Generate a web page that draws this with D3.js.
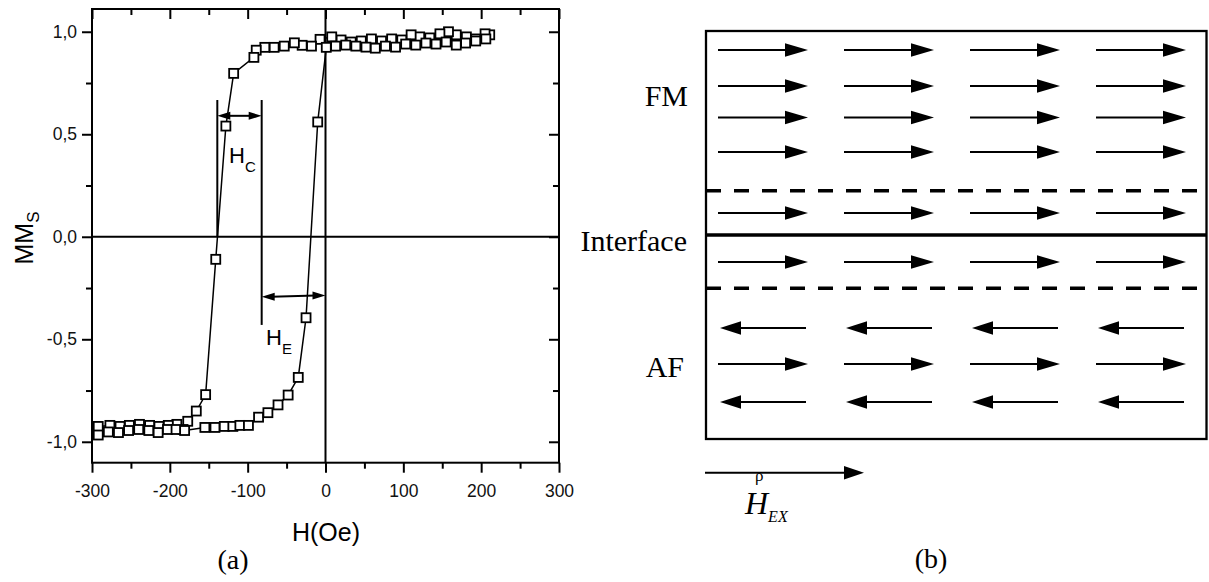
<!DOCTYPE html>
<html>
<head>
<meta charset="UTF-8">
<title></title>
<style>
  body { margin: 0; background: #fff; }
  svg { display: block; }
</style>
</head>
<body>
<svg width="1209" height="582"></svg>
<script src="https://cdn.jsdelivr.net/npm/d3@7/dist/d3.min.js"></script>
<script>
// hysteresis loop, descending branch (from +H down)
var downH = [211, 205, 193, 181, 168, 158, 147, 134, 121, 110, 98, 85, 72, 59, 46, 33, 20, 8,
             -7, -18, -30, -40, -53, -66, -78, -89, -92, -118, -128, -141, -154, -166, -177, -183,
             -191, -202, -214, -226, -239, -252, -264, -277, -292];
var downM = [0.985, 0.99, 0.965, 0.975, 0.985, 1.0, 0.99, 0.97, 0.975, 0.985, 0.96, 0.965, 0.955, 0.965, 0.955, 0.95, 0.96, 0.975,
             0.963, 0.93, 0.934, 0.946, 0.93, 0.924, 0.924, 0.91, 0.875, 0.797, 0.54, -0.11, -0.77, -0.85, -0.9, -0.94,
             -0.915, -0.92, -0.925, -0.92, -0.915, -0.92, -0.925, -0.92, -0.925];
// ascending branch (from -H up)
var upH = [-292, -279, -266, -253, -240, -227, -215, -203, -192, -181, -155, -142, -130, -119, -110, -99,
           -86, -74, -61, -48, -35, -25, -10, 1, 13, 26, 39, 52, 64, 77, 90, 103, 116, 129, 142, 155, 168, 180, 193, 206];
var upM = [-0.967, -0.952, -0.955, -0.945, -0.94, -0.945, -0.955, -0.94, -0.94, -0.945, -0.93, -0.93, -0.925, -0.925, -0.92, -0.92,
           -0.88, -0.858, -0.82, -0.772, -0.686, -0.395, 0.56, 0.924, 0.93, 0.935, 0.93, 0.925, 0.92, 0.93, 0.925, 0.94, 0.935, 0.945, 0.94, 0.95, 0.935, 0.945, 0.955, 0.965];

var xTicks = [-300, -200, -100, 0, 100, 200, 300];
var xMinor = [-250, -150, -50, 50, 150, 250];
var yTicks = [-1, -0.5, 0, 0.5, 1];
var yMinor = [-0.75, -0.25, 0.25, 0.75];

var hcField = [-139, -82];   // coercive field markers
var heField = [-82, 0];      // exchange bias markers

// spin directions in the layers (1 = right, -1 = left)
var fmSpins = [1, 1, 1, 1];
var interfaceSpins = [1, 1];
var afSpins = [-1, 1, -1];
var columns = [0, 1, 2, 3];

var sans = '"Liberation Sans", Arial, sans-serif';
var serif = '"Liberation Serif", "Times New Roman", serif';

var svg = d3.select('svg');
var x = d3.scaleLinear().domain([-300, 300]).range([92, 559]);
var y = d3.scaleLinear().domain([-1.102, 1.111]).range([462.7, 9]);

function head(g, tx, ty, dir, len, half) {
  g.append('path')
    .attr('d', 'M' + tx + ',' + ty + 'L' + (tx - dir * len) + ',' + (ty - half) + 'L' + (tx - dir * len) + ',' + (ty + half) + 'Z')
    .attr('fill', '#000');
}

// ---- panel (a) ----
var plot = svg.append('g');

function axis(gen, tf, vals, size, fmt, pad) {
  var g = plot.append('g').attr('transform', tf)
    .call(gen.tickValues(vals).tickSize(size).tickPadding(pad || 3).tickFormat(fmt || ''));
  g.select('.domain').remove();
  g.selectAll('line').attr('stroke-width', 2);
  g.selectAll('text').attr('font-family', sans).attr('font-size', 17.5).attr('fill', '#111');
  return g;
}
axis(d3.axisBottom(x), 'translate(0,462.7)', xTicks, 10, function (d) { return String(d); }, 12);
axis(d3.axisBottom(x), 'translate(0,462.7)', xMinor, 6);
axis(d3.axisTop(x), 'translate(0,9)', xTicks, -10);
axis(d3.axisTop(x), 'translate(0,9)', xMinor, -6);
axis(d3.axisLeft(y), 'translate(92,0)', yTicks, 10, function (d) { return d.toFixed(1).replace('.', ','); }, 5);
axis(d3.axisLeft(y), 'translate(92,0)', yMinor, 6);
axis(d3.axisRight(y), 'translate(559,0)', yTicks, -10);
axis(d3.axisRight(y), 'translate(559,0)', yMinor, -6);

plot.append('rect')
  .attr('x', x(-300)).attr('y', y(1.111))
  .attr('width', x(300) - x(-300)).attr('height', y(-1.102) - y(1.111))
  .attr('fill', 'none').attr('stroke', '#000').attr('stroke-width', 2);

plot.append('line').attr('x1', x(-300)).attr('x2', x(300)).attr('y1', y(0)).attr('y2', y(0))
  .attr('stroke', '#000').attr('stroke-width', 2);
plot.append('line').attr('x1', x(0)).attr('x2', x(0)).attr('y1', y(1.111)).attr('y2', y(-1.102))
  .attr('stroke', '#000').attr('stroke-width', 2);

// annotation lines
var ann = plot.append('g').attr('stroke', '#000').attr('stroke-width', 2);
ann.append('line').attr('x1', x(hcField[0])).attr('x2', x(hcField[0])).attr('y1', y(0.667)).attr('y2', y(0));
ann.append('line').attr('x1', x(hcField[1])).attr('x2', x(hcField[1])).attr('y1', y(0.667)).attr('y2', y(-0.43));
ann.append('line').attr('x1', x(hcField[0]) + 10).attr('x2', x(hcField[1]) - 10).attr('y1', y(0.59)).attr('y2', y(0.59));
ann.append('line').attr('x1', x(heField[0]) + 10).attr('x2', x(heField[1]) - 10).attr('y1', y(-0.293)).attr('y2', y(-0.287));
head(plot, x(hcField[0]), y(0.59), -1, 13, 4);
head(plot, x(hcField[1]), y(0.59), 1, 13, 4);
head(plot, x(heField[0]), y(-0.293), -1, 13, 4);
head(plot, x(heField[1]), y(-0.287), 1, 13, 4);

// loop line + squares
var down = downH.map(function (h, i) { return [h, downM[i]]; });
var up = upH.map(function (h, i) { return [h, upM[i]]; });
var line = d3.line().x(function (d) { return x(d[0]); }).y(function (d) { return y(d[1]); });
[down, up].forEach(function (s) {
  plot.append('path').datum(s).attr('d', line).attr('fill', 'none').attr('stroke', '#000').attr('stroke-width', 1.5);
});
plot.selectAll('rect.pt').data(down.concat(up)).enter().append('rect')
  .attr('class', 'pt')
  .attr('x', function (d) { return x(d[0]) - 4.5; })
  .attr('y', function (d) { return y(d[1]) - 4.5; })
  .attr('width', 9).attr('height', 9)
  .attr('fill', '#fff').attr('stroke', '#000').attr('stroke-width', 1.8);

// labels
var hc = plot.append('text').attr('x', 229).attr('y', 163).attr('font-family', sans).attr('font-size', 22);
hc.append('tspan').text('H');
hc.append('tspan').attr('dy', 9).attr('font-size', 15).text('C');
var he = plot.append('text').attr('x', 266).attr('y', 345).attr('font-family', sans).attr('font-size', 22);
he.append('tspan').text('H');
he.append('tspan').attr('dy', 9).attr('font-size', 15).text('E');

plot.append('text').attr('x', 326).attr('y', 541).attr('text-anchor', 'middle')
  .attr('font-family', sans).attr('font-size', 25).text('H(Oe)');
var ml = plot.append('text').attr('transform', 'translate(33,238) rotate(-90)').attr('text-anchor', 'middle')
  .attr('font-family', sans).attr('font-size', 25);
ml.append('tspan').text('MM');
ml.append('tspan').attr('dy', 6).attr('font-size', 17).text('S');

plot.append('text').attr('x', 233).attr('y', 569).attr('text-anchor', 'middle')
  .attr('font-family', serif).attr('font-size', 28).text('(a)');

// ---- panel (b) ----
var dia = svg.append('g');
var colX = d3.scaleLinear().domain([0, 3]).range([718, 1096]);
var rows = [];
var rowY = [50, 86, 117.5, 152, 213, 262, 328, 364, 402];
fmSpins.concat(interfaceSpins, afSpins).forEach(function (d, i) { rows.push({ dir: d, y: rowY[i] }); });

dia.append('rect').attr('x', 706).attr('y', 31).attr('width', 500.5).attr('height', 408)
  .attr('fill', 'none').attr('stroke', '#000').attr('stroke-width', 2.3);
[190.7, 288.3].forEach(function (yy) {
  dia.append('line').attr('x1', 706).attr('x2', 1198).attr('y1', yy).attr('y2', yy)
    .attr('stroke', '#000').attr('stroke-width', 3.5).attr('stroke-dasharray', '15,13');
});
dia.append('line').attr('x1', 706).attr('x2', 1206).attr('y1', 235).attr('y2', 235)
  .attr('stroke', '#000').attr('stroke-width', 3.5);

rows.forEach(function (r) {
  columns.forEach(function (c) {
    var x0 = colX(c);
    if (r.dir > 0) {
      dia.append('line').attr('x1', x0).attr('x2', x0 + 70).attr('y1', r.y).attr('y2', r.y)
        .attr('stroke', '#000').attr('stroke-width', 2);
      head(dia, x0 + 90, r.y, 1, 23, 6.7);
    } else {
      dia.append('line').attr('x1', x0 + 20).attr('x2', x0 + 88).attr('y1', r.y).attr('y2', r.y)
        .attr('stroke', '#000').attr('stroke-width', 2);
      head(dia, x0 + 2, r.y, -1, 21, 6.7);
    }
  });
});

dia.append('text').attr('x', 688).attr('y', 106).attr('text-anchor', 'end')
  .attr('font-family', serif).attr('font-size', 30).text('FM');
dia.append('text').attr('x', 687).attr('y', 251).attr('text-anchor', 'end')
  .attr('font-family', serif).attr('font-size', 30).text('Interface');
dia.append('text').attr('x', 684).attr('y', 377).attr('text-anchor', 'end')
  .attr('font-family', serif).attr('font-size', 30).text('AF');

// exchange field arrow
dia.append('line').attr('x1', 705).attr('x2', 848).attr('y1', 472.7).attr('y2', 472.7)
  .attr('stroke', '#000').attr('stroke-width', 2);
head(dia, 864, 472.7, 1, 20, 6.7);
dia.append('text').attr('x', 755).attr('y', 481).attr('font-family', serif).attr('font-size', 17).text('ρ');
var hex = dia.append('text').attr('x', 745).attr('y', 514).attr('font-family', serif)
  .attr('font-style', 'italic').attr('font-size', 32);
hex.append('tspan').text('H');
hex.append('tspan').attr('dy', 8).attr('font-size', 16).text('EX');

dia.append('text').attr('x', 931).attr('y', 568).attr('text-anchor', 'middle')
  .attr('font-family', serif).attr('font-size', 28).text('(b)');
</script>
</body>
</html>
